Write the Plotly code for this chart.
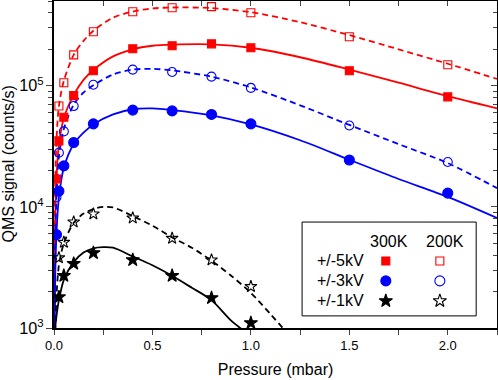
import plotly.graph_objects as go

# measured points (pressure in mbar, QMS signal in counts/s)
p_pts = [0.0125, 0.025, 0.05, 0.1, 0.2, 0.4, 0.6, 0.8, 1.0, 1.5, 2.0]
kv5_300 = [17000, 35000, 55000, 83000, 133000, 202000, 214000, 222000, 206000, 133000, 81000]
kv5_200 = [35000, 68000, 106000, 180000, 279000, 408000, 441000, 450000, 401000, 254000, 149000]
kv3_300 = [5900, 13500, 21800, 34000, 48500, 63000, 62000, 58000, 48500, 24400, 13000]
kv3_200 = [12000, 28000, 42000, 68000, 102000, 136000, 130000, 119000, 96000, 47000, 23500]

p_star = [0.025, 0.05, 0.1, 0.2, 0.4, 0.6, 0.8, 1.0]
kv1_300 = [1800, 2700, 3400, 4170, 3650, 2700, 1770, 1100]
kv1_200 = [3800, 5100, 7500, 8750, 8100, 5500, 3650, 2200]

# fit curves
p_fit = [0.002, 0.005, 0.0125, 0.025, 0.05, 0.1, 0.15, 0.2, 0.3, 0.4, 0.5, 0.6, 0.8,
         1.0, 1.25, 1.5, 1.75, 2.0, 2.25]
fit5_300 = [800, 6000, 17000, 33000, 54000, 84000, 112000, 135000, 175000, 200000, 214000,
            219000, 220000, 206000, 172000, 136000, 106000, 82000, 65000]
fit5_200 = [1500, 12000, 35000, 68000, 110000, 180000, 235000, 285000, 365000, 410000, 435000,
            443000, 438000, 405000, 335000, 262000, 200000, 152000, 114000]
fit3_200 = [800, 4000, 12000, 26000, 44000, 70000, 88000, 101000, 124000, 136000, 138000,
            134000, 119000, 97000, 69000, 47500, 33000, 23000, 14300]
fit3_300 = [300, 2000, 6000, 12000, 21000, 33000, 41000, 48000, 58000, 64000, 65000,
            63000, 57000, 48000, 35500, 24500, 17000, 12100, 8100]

p_fit1 = [0.002, 0.005, 0.0125, 0.025, 0.05, 0.1, 0.15, 0.2, 0.25, 0.3, 0.4, 0.5, 0.6,
          0.7, 0.8, 0.9, 1.0, 1.1, 1.2]
fit1_300 = [300, 950, 1250, 1700, 2500, 3500, 4200, 4550, 4650, 4600, 3900, 3300, 2700,
            2150, 1700, 1150, 850, 600, 400]
fit1_200 = [300, 700, 1800, 3300, 5000, 7400, 8800, 9600, 10000, 9900, 8400, 7000, 5600,
            4600, 3600, 2700, 1950, 1300, 850]

RED = "#ff0000"
BLUE = "#0000ff"
BLK = "#000000"
FONT = "Liberation Sans, Arial, sans-serif"
DASH = "6px,4px"

fig = go.Figure()

def add_fit(x, y, color, dash):
    fig.add_trace(go.Scatter(x=x, y=y, mode="lines", line=dict(color=color, width=1.8, dash=dash,
                                                                   shape="spline", smoothing=0.8),
                             showlegend=False, hoverinfo="skip"))

def add_pts(x, y, color, symbol, size):
    fig.add_trace(go.Scatter(x=x, y=y, mode="markers",
                             marker=dict(color=color, symbol=symbol, size=size,
                                         line=dict(color=color, width=1.1)),
                             showlegend=False, cliponaxis=True))

add_fit(p_fit, fit5_200, RED, DASH)
add_fit(p_fit, fit5_300, RED, "solid")
add_fit(p_fit, fit3_200, BLUE, DASH)
add_fit(p_fit, fit3_300, BLUE, "solid")
add_fit(p_fit1, fit1_200, BLK, DASH)
add_fit(p_fit1, fit1_300, BLK, "solid")

add_pts(p_pts, kv5_200, RED, "square-open", 8)
add_pts(p_pts, kv5_300, RED, "square", 8)
add_pts(p_pts, kv3_200, BLUE, "circle-open", 9)
add_pts(p_pts, kv3_300, BLUE, "circle", 10)
add_pts(p_star, kv1_200, BLK, "star-open", 9)
add_pts(p_star, kv1_300, BLK, "star", 10)

# legend as a small table (overlay axes in 0..1 units)
leg_x = [0.749, 0.871]
leg_y = [0.205, 0.144, 0.083]
leg_rows = ["+/-5kV", "+/-3kV", "+/-1kV"]
leg_sym = [("square", "square-open", RED, 8), ("circle", "circle-open", BLUE, 10),
           ("star", "star-open", BLK, 10)]
for (s_fill, s_open, col, sz), yy in zip(leg_sym, leg_y):
    fig.add_trace(go.Scatter(x=leg_x, y=[yy, yy], mode="markers", xaxis="x3", yaxis="y3",
                             marker=dict(symbol=[s_fill, s_open], color=col, size=sz,
                                         line=dict(color=col, width=1.1)),
                             showlegend=False, hoverinfo="skip"))

fig.add_shape(type="rect", xref="paper", yref="paper", x0=0.560, x1=0.953, y0=0.037, y1=0.324,
              line=dict(color="#000000", width=1), fillcolor="white", layer="below")
for lbl, yy in zip(leg_rows, leg_y):
    fig.add_annotation(x=0.646, y=yy, xref="paper", yref="paper", text=lbl, showarrow=False,
                       xanchor="center", yanchor="middle",
                       font=dict(size=16, color="black", family=FONT))
for lbl, xx in zip(["300K", "200K"], [0.756, 0.883]):
    fig.add_annotation(x=xx, y=0.263, xref="paper", yref="paper", text=lbl, showarrow=False,
                       xanchor="center", yanchor="middle",
                       font=dict(size=16, color="black", family=FONT))

# y title placed by hand
fig.add_annotation(x=-0.0835, y=0.5, xref="paper", yref="paper", text="QMS signal (counts/s)",
                   textangle=-90, showarrow=False, xanchor="center", yanchor="middle",
                   xshift=-9, font=dict(size=16, color="black", family=FONT))

xr = [0, 2.25]
yr = [3, 5.7]
fig.update_layout(
    width=498, height=380,
    margin=dict(l=54, r=1, t=1, b=52),
    paper_bgcolor="white", plot_bgcolor="white",
    font=dict(family=FONT, size=13, color="black"),
    xaxis=dict(range=xr, showgrid=False, zeroline=False, showline=True, linecolor="black",
               linewidth=1.5, ticks="outside", ticklen=5, tickwidth=1, dtick=0.5,
               tickformat=".1f", minor=dict(dtick=0.25, ticks="outside", ticklen=5),
               automargin=False,
               title=dict(text="Pressure (mbar)", font=dict(size=16), standoff=11)),
    yaxis=dict(type="log", range=yr, showgrid=False, zeroline=False, showline=True,
               linecolor="black", linewidth=1.5, ticks="outside", ticklen=6, tickwidth=1,
               dtick=1, exponentformat="power", automargin=False,
               minor=dict(dtick="D1", ticks="outside", ticklen=4, showgrid=False)),
    xaxis2=dict(overlaying="x", side="top", range=xr, showgrid=False, zeroline=False,
                showline=True, linecolor="black", linewidth=1.5, ticks="inside", ticklen=5,
                dtick=0.25, showticklabels=False, automargin=False),
    yaxis2=dict(overlaying="y", side="right", type="log", range=yr, showgrid=False,
                zeroline=False, showline=True, linecolor="black", linewidth=1.5,
                ticks="inside", ticklen=6, dtick=1, showticklabels=False, automargin=False,
                minor=dict(dtick="D1", ticks="inside", ticklen=4, showgrid=False)),
    xaxis3=dict(overlaying="x", range=[0, 1], visible=False, automargin=False),
    yaxis3=dict(overlaying="y", range=[0, 1], visible=False, automargin=False),
)
# dummy trace so the mirrored axes draw
fig.add_trace(go.Scatter(x=[None], y=[None], xaxis="x2", yaxis="y2", showlegend=False))

fig.write_html("out.html", config={"displayModeBar": False},
               post_script="document.body.style.margin='0px';")
